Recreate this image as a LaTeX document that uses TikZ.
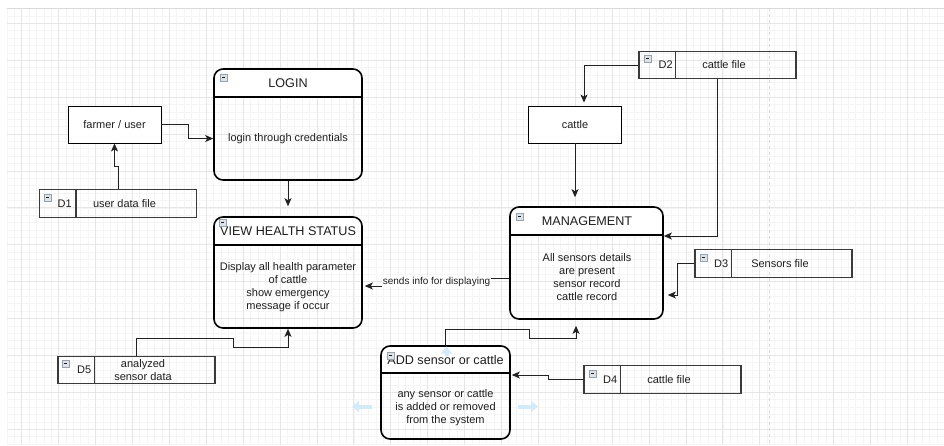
\documentclass[tikz,border=0pt]{standalone}
\usepackage{fontspec}
\setmainfont{Liberation Sans}
\usetikzlibrary{arrows.meta,calc}
\definecolor{ink}{HTML}{1E1E1E}
\definecolor{flowline}{HTML}{222222}
\definecolor{storeline}{HTML}{3A3A3A}
\definecolor{gridminor}{HTML}{F5F5F5}
\definecolor{gridmajor}{HTML}{E6E6E6}
\definecolor{pageedge}{HTML}{DADADA}
\definecolor{hintblue}{HTML}{D3EAF8}
\definecolor{iconfill}{HTML}{DCE2E7}
\definecolor{iconline}{HTML}{98A2AB}
\begin{document}
\begin{tikzpicture}[x=1pt,y=-1pt,
  font=\fontsize{11}{13}\selectfont, text=ink,
  proc/.style={draw=black,line width=1.6pt,rounded corners=9pt,inner sep=0pt},
  hdrline/.style={draw=black,line width=1.6pt},
  entity/.style={draw=black,line width=0.9pt,fill=white,inner sep=0pt,
    minimum width=93pt,minimum height=37pt},
  store/.style={draw=storeline,line width=1.1pt,inner sep=0pt,
    minimum width=157pt,minimum height=27.5pt},
  divider/.style={draw=storeline,line width=1.1pt},
  flow/.style={draw=flowline,line width=1pt,
    -{Stealth[length=8pt,width=7pt,inset=2pt]}},
  title/.style={font=\fontsize{12.6}{15}\selectfont,inner sep=0pt},
  body/.style={align=center,inner sep=0pt},
  sid/.style={anchor=east,inner sep=0pt},
  stext/.style={align=center,inner sep=0pt},
  hint/.style={draw=hintblue,line width=4pt,
    -{Triangle[length=7pt,width=11pt]}},
  colicon/.pic={
    \draw[fill=iconfill,draw=iconline,line width=0.5pt] (0,0) rectangle (7,7);
    \draw[draw=ink,line width=0.8pt] (1.8,3.5) -- (5.2,3.5);
  }
]
\useasboundingbox (0,0) rectangle (944,445);
\fill[white] (0,0) rectangle (944,445);

% background grid
\foreach \i in {0,...,127}
  \draw[gridminor,line width=0.6pt] ({6.94+7.38*\i},8) -- ({6.94+7.38*\i},445);
\foreach \i in {0,...,59}
  \draw[gridminor,line width=0.6pt] (7,{8.54+7.38*\i}) -- (944,{8.54+7.38*\i});
\foreach \k in {0,...,25}
  \draw[gridmajor,line width=0.8pt] ({21.7+36.9*\k},8) -- ({21.7+36.9*\k},445);
\foreach \k in {0,...,11}
  \draw[gridmajor,line width=0.8pt] (7,{23.3+36.9*\k}) -- (944,{23.3+36.9*\k});
\draw[pageedge,line width=1pt] (7,8) -- (944,8);
\draw[pageedge,line width=1pt,dash pattern=on 3pt off 3pt] (769,8) -- (769,445);

% process: LOGIN
\fill[white] (214,97) {[rounded corners=9pt] -- (214,69) -- (362,69)} -- (362,97) -- cycle;
\node[proc,minimum width=148pt,minimum height=111pt] (login) at (288,124.5) {};
\draw[hdrline] (214,97) -- (362,97);
\node[title] (login-title) at (288,83) {LOGIN};
\node[body] (login-body) at (288,138.5) {login through credentials};
\pic at (220,74) {colicon};

% process: VIEW HEALTH STATUS
\fill[white] (214,245) {[rounded corners=9pt] -- (214,217) -- (362,217)} -- (362,245) -- cycle;
\node[proc,minimum width=148pt,minimum height=111pt] (view) at (288,272.5) {};
\draw[hdrline] (214,245) -- (362,245);
\node[title] (view-title) at (288,231.5) {VIEW HEALTH STATUS};
\node[body] (view-body) at (288,287) {Display all health parameter\\of cattle\\show emergency\\message if occur};
\pic at (219,219) {colicon};

% process: MANAGEMENT
\fill[white] (510,235) {[rounded corners=9pt] -- (510,207) -- (663,207)} -- (663,235) -- cycle;
\node[proc,minimum width=153pt,minimum height=112pt] (mgmt) at (586.5,263) {};
\draw[hdrline] (510,235) -- (663,235);
\node[title] (mgmt-title) at (587,221.5) {MANAGEMENT};
\node[body] (mgmt-body) at (587,277.5) {All sensors details\\are present\\sensor record\\cattle record};
\pic at (516,213) {colicon};

% process: ADD sensor or cattle
\fill[white] (381,373) {[rounded corners=9pt] -- (381,346) -- (510,346)} -- (510,373) -- cycle;
\node[proc,minimum width=129pt,minimum height=93pt] (add) at (445.5,392.5) {};
\draw[hdrline] (381,373) -- (510,373);
\node[title] (add-title) at (445.5,360) {ADD sensor or cattle};
\node[body] (add-body) at (445.5,407.5) {any sensor or cattle\\is added or removed\\from the system};
\pic at (387,352) {colicon};

% external entities
\node[entity] (farmer) at (114.5,124.5) {farmer / user};
\node[entity] (cattle) at (575,124.5) {cattle};

% data stores
\node[store] (d1) at (118,203.5) {};
\draw[divider] ([xshift=37pt]d1.north west) -- ([xshift=37pt]d1.south west);
\node[sid] (d1-id) at ($(d1.west)+(33,0)$) {D1};
\node[stext] (d1-txt) at ($(d1.center)+(6.5,0)$) {user data file};
\pic at (44,194) {colicon};

\node[store] (d2) at (717.5,65) {};
\draw[divider] ([xshift=37pt]d2.north west) -- ([xshift=37pt]d2.south west);
\node[sid] (d2-id) at ($(d2.west)+(34.5,0)$) {D2};
\node[stext] (d2-txt) at ($(d2.center)+(6.5,0)$) {cattle file};
\pic at (644,55) {colicon};

\node[store] (d3) at (773.5,263.5) {};
\draw[divider] ([xshift=37pt]d3.north west) -- ([xshift=37pt]d3.south west);
\node[sid] (d3-id) at ($(d3.west)+(34,0)$) {D3};
\node[stext] (d3-txt) at ($(d3.center)+(6.5,0)$) {Sensors file};
\pic at (700,254) {colicon};

\node[store] (d4) at (662.5,379.5) {};
\draw[divider] ([xshift=37pt]d4.north west) -- ([xshift=37pt]d4.south west);
\node[sid] (d4-id) at ($(d4.west)+(34,0)$) {D4};
\node[stext] (d4-txt) at ($(d4.center)+(6.5,0)$) {cattle file};
\pic at (589,370) {colicon};

\node[store] (d5) at (136.5,370) {};
\draw[divider] ([xshift=37pt]d5.north west) -- ([xshift=37pt]d5.south west);
\node[sid] (d5-id) at ($(d5.west)+(34,0)$) {D5};
\node[stext] (d5-txt) at ($(d5.center)+(6.5,0)$) {analyzed\\sensor data};
\pic at (62,360) {colicon};

% data flows
\draw[flow] (d1.north) -- (d1.north |- 0,166) -| (farmer.south);
\draw[flow] (farmer.east) -- (188,124.5) |- (login.west |- login-body);
\draw[flow] (login.south) -- ([yshift=10pt]view.north);
\draw[flow] (d2.west) -| ([xshift=9pt,yshift=3pt]cattle.north);
\draw[flow] (cattle.south) -- ([yshift=9pt]cattle.south |- mgmt.north);
\draw[flow] (d2.south) |- ([yshift=27pt]mgmt.east);
\draw[flow] (d3.west) -- (677,263.5) |- ([xshift=4pt,yshift=-32pt]mgmt.east);
\draw[flow] ([yshift=-15pt]mgmt.west) -- (437,278) -- (437,286)
  -- ([xshift=2pt,yshift=-13.5pt]view.east);
\node[fill=white,inner sep=0.5pt,font=\fontsize{10}{12}\selectfont] (sendlbl) at (436.5,282) {sends info for displaying};
\draw[flow] (d4.west) -- (548,379.5) |- ([xshift=1pt,yshift=17.5pt]add.east);
\draw[flow] (add.north) -- (445.5,329) -- (529,329) -- (529,338) -- (576,338)
  -- ([xshift=-10.5pt,yshift=-6pt]mgmt.south);
\draw[flow] (d5.north) -- (136.5,338) -- (233,338) -- (233,347) -- (288,347) -- (view.south);

% faint hover hints
\draw[hint] (372,406.5) -- (352,406.5);
\draw[hint] (518,406.5) -- (538,406.5);
\draw[hint] (446.5,356) -- (446.5,346.5);
\end{tikzpicture}
\end{document}
